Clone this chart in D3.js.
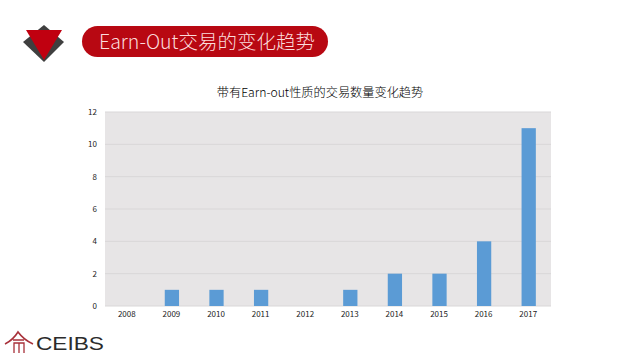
<!DOCTYPE html>
<html>
<head>
<meta charset="utf-8">
<script src="https://cdn.jsdelivr.net/npm/d3@7"></script>
<style>
  html, body { margin: 0; padding: 0; background: #fff; }
  svg { display: block; }
  text { font-family: "Noto Sans CJK SC", "Noto Sans", sans-serif; }
</style>
</head>
<body>
<svg id="graph"></svg>
<script>
const years = ["2008", "2009", "2010", "2011", "2012", "2013", "2014", "2015", "2016", "2017"];
const deals = [0, 1, 1, 1, 0, 1, 2, 2, 4, 11];
const yTicks = [0, 2, 4, 6, 8, 10, 12];
const chartTitle = "带有Earn-out性质的交易数量变化趋势";
const bannerTitle = "Earn-Out交易的变化趋势";

const width = 640, height = 353;
const margin = { top: 112, right: 89, bottom: 47, left: 105 };

const svg = d3.select("#graph")
  .attr("width", width)
  .attr("height", height);

const xScale = d3.scaleBand()
  .domain(years)
  .range([margin.left, width - margin.right])
  .paddingInner(0.68)
  .paddingOuter(0.34);

const yScale = d3.scaleLinear()
  .domain([0, 12])
  .range([height - margin.bottom, margin.top]);

// plot background
svg.append("rect")
  .attr("x", margin.left)
  .attr("y", margin.top)
  .attr("width", width - margin.left - margin.right)
  .attr("height", height - margin.top - margin.bottom)
  .attr("fill", "#e7e5e6");

// gridlines
svg.append("g")
  .selectAll("line")
  .data(yTicks)
  .join("line")
  .attr("x1", margin.left)
  .attr("x2", width - margin.right)
  .attr("y1", d => yScale(d))
  .attr("y2", d => yScale(d))
  .attr("stroke", "#d9d7d8")
  .attr("stroke-width", 1);

svg.append("g")
  .selectAll("rect")
  .data(deals)
  .join("rect")
  .attr("x", (d, i) => xScale(years[i]))
  .attr("y", d => yScale(d))
  .attr("width", xScale.bandwidth())
  .attr("height", d => yScale(0) - yScale(d))
  .attr("fill", "#5b9bd5");

const xAxis = d3.axisBottom(xScale).tickSize(0).tickPadding(5);
const yAxis = d3.axisLeft(yScale).tickValues(yTicks).tickSize(0).tickPadding(8);

const xAxisGroup = svg.append("g")
  .attr("transform", `translate(-0.5,${height - margin.bottom})`)
  .call(xAxis);
const yAxisGroup = svg.append("g")
  .attr("transform", `translate(${margin.left},0)`)
  .call(yAxis);

xAxisGroup.select(".domain").remove();
yAxisGroup.select(".domain").remove();
xAxisGroup.selectAll("text").style("font-size", "8px").attr("fill", "#222");
yAxisGroup.selectAll("text").style("font-size", "8px").attr("fill", "#222");

svg.append("text")
  .attr("x", 320)
  .attr("y", 97)
  .attr("text-anchor", "middle")
  .style("font-size", "12.2px")
  .style("font-weight", 300)
  .attr("fill", "#000")
  .text(chartTitle);

// header badge: dark diamond with a red triangle on top
svg.append("path")
  .attr("d", "M44 25 L64 42 L44 62 L23 42 Z")
  .attr("fill", "#3f3f3f");
svg.append("path")
  .attr("d", "M26 30 L62 30 L44 60 Z")
  .attr("fill", "#c00010");

// header pill
svg.append("rect")
  .attr("x", 82)
  .attr("y", 26)
  .attr("width", 246)
  .attr("height", 31)
  .attr("rx", 15.5)
  .attr("fill", "#b80812");
svg.append("text")
  .attr("x", 99)
  .attr("y", 49)
  .style("font-size", "19.5px")
  .style("font-weight", 300)
  .attr("fill", "#fbdcdc")
  .text(bannerTitle);

// CEIBS logo
const logo = svg.append("g").attr("fill", "none").attr("stroke", "#a8313a");
logo.append("path")
  .attr("d", "M5 344 Q13 340 18 332 Q24 340 33 344")
  .attr("stroke-width", 1.6);
logo.append("path")
  .attr("d", "M13 340 H24 M14 353 V343 H24 V353 M19 343 V353")
  .attr("stroke-width", 1.3);
svg.append("text")
  .attr("x", 36)
  .attr("y", 349.5)
  .attr("textLength", 68)
  .attr("lengthAdjust", "spacingAndGlyphs")
  .style("font-family", "'Liberation Sans', sans-serif")
  .style("font-size", "17.5px")
  .attr("fill", "#2b2b2b")
  .text("CEIBS");
</script>
</body>
</html>
